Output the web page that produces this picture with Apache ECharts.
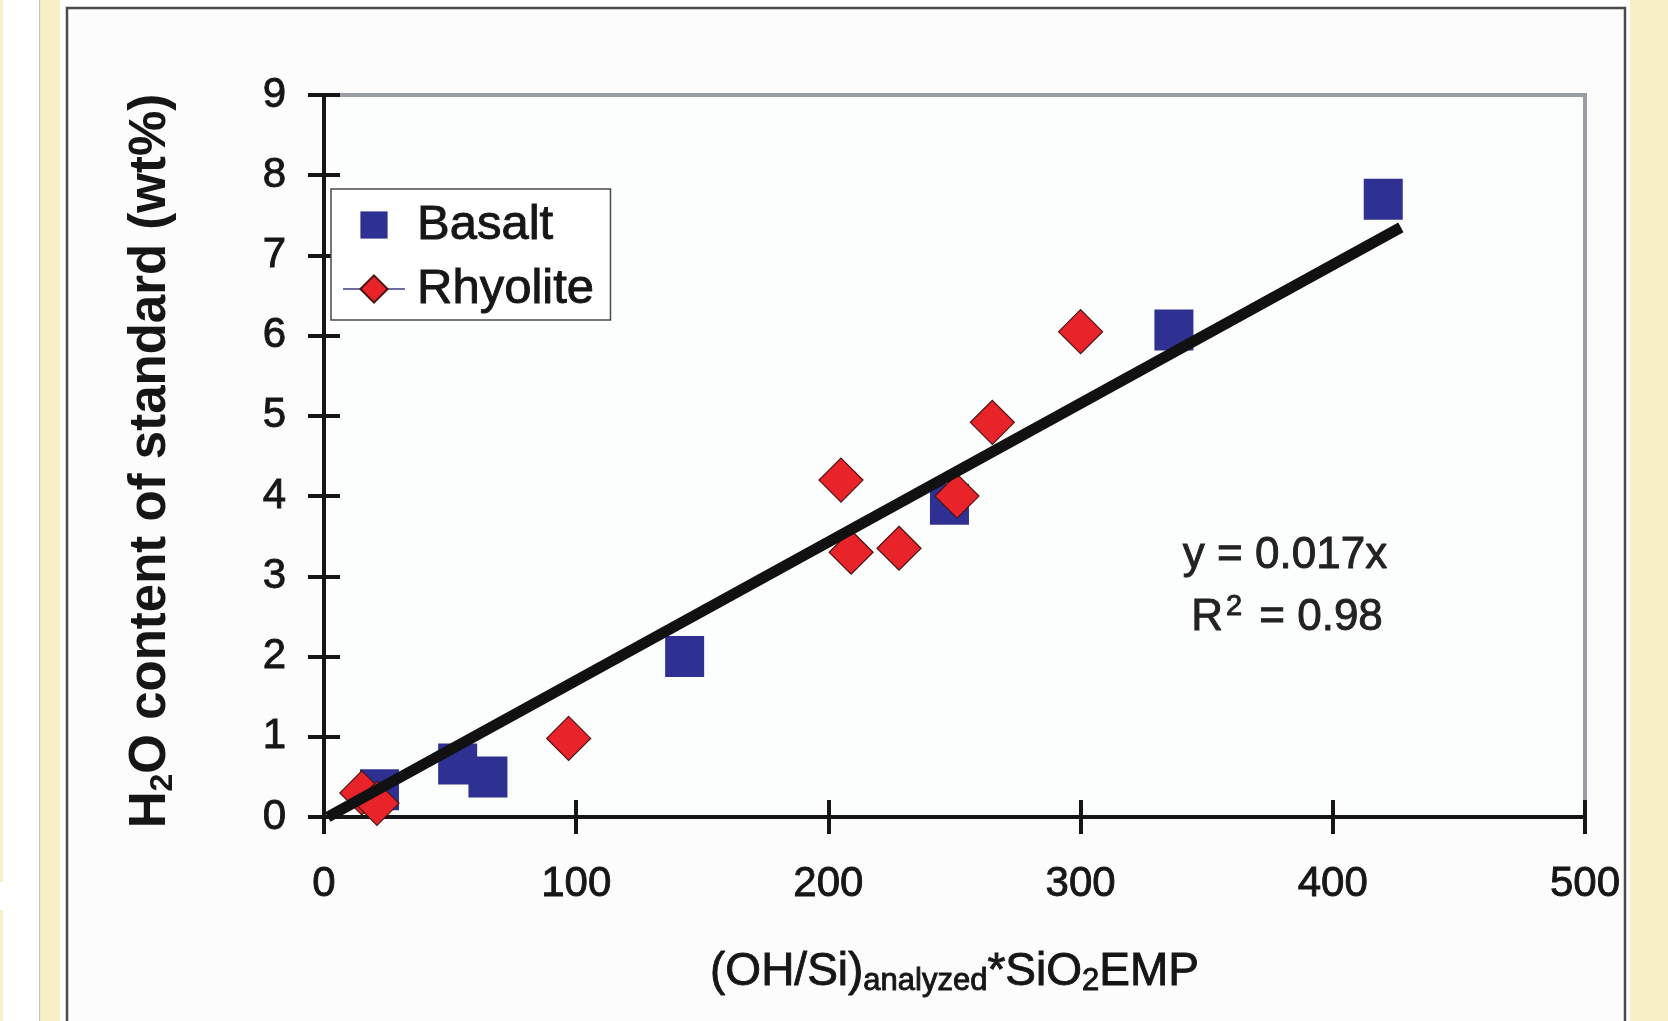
<!DOCTYPE html>
<html>
<head>
<meta charset="utf-8">
<title>H2O standard calibration</title>
<script src="https://cdn.jsdelivr.net/npm/echarts@6/dist/echarts.min.js"></script>
<style>
  html, body { margin: 0; padding: 0; background: #ffffff; }
  #main { width: 1668px; height: 1021px; }
</style>
</head>
<body>
<div id="main"></div>
<script>
console.log("H2O calibration chart");

// data
var basaltX = [420, 337, 248, 143, 53, 65, 22];
var basaltY = [7.7, 6.07, 3.9, 2.0, 0.66, 0.5, 0.34];
var rhyoliteX = [300, 265, 251, 205, 209, 228, 97, 15, 21];
var rhyoliteY = [6.05, 4.92, 4.0, 4.2, 3.3, 3.35, 0.98, 0.3, 0.17];
var trendX = [1.5, 427];
var trendY = [0, 7.35];

var xMin = 0, xMax = 500, xStep = 100;
var yMin = 0, yMax = 9, yStep = 1;

var seriesNames = ['Basalt', 'Rhyolite'];
var eqLine1 = 'y = 0.017x';
var eqLine2 = 'R{sup|2} = 0.98';
var xTitle = '(OH/Si){sub|analyzed}*SiO{sub|2}EMP';
var yTitle = 'H{sub|2}O content of standard (wt%)';

var FONT = '"Liberation Sans", Arial, Helvetica, sans-serif';
var INK = '#161616';
var HEAVY = 0.9;   // thin text stroke, the scan looks heavier than plain regular

function pairs(xs, ys) {
    var out = [];
    for (var i = 0; i < xs.length; i++) {
        out.push([xs[i], ys[i]]);
    }
    return out;
}

var myChart = echarts.init(document.getElementById('main'), null, {renderer: 'canvas'});

// main axis (outside ticks + labels) and a twin with inside ticks -> crossing ticks
function xAxisMain() {
    return {
        type: 'value', min: xMin, max: xMax, interval: xStep, position: 'bottom',
        axisLine: {show: true, lineStyle: {color: INK, width: 4}},
        axisTick: {show: true, inside: false, length: 17, lineStyle: {color: INK, width: 4}},
        axisLabel: {show: true, fontSize: 42, fontFamily: FONT, color: INK, margin: 46,
            textBorderColor: INK, textBorderWidth: HEAVY},
        splitLine: {show: false},
        name: xTitle,
        nameLocation: 'middle',
        nameGap: 130,
        nameTextStyle: {
            fontSize: 46, fontFamily: FONT, color: INK, lineHeight: 50,
            textBorderColor: INK, textBorderWidth: HEAVY,
            rich: {
                sub: {fontSize: 31, fontFamily: FONT, color: INK, lineHeight: 30, verticalAlign: 'bottom',
                    textBorderColor: INK, textBorderWidth: HEAVY}
            }
        }
    };
}
function xAxisTwin() {
    return {
        type: 'value', min: xMin, max: xMax, interval: xStep, position: 'bottom',
        axisLine: {show: false},
        axisTick: {show: true, inside: true, length: 17, lineStyle: {color: INK, width: 4}},
        axisLabel: {show: false},
        splitLine: {show: false}
    };
}
function yAxisMain() {
    return {
        type: 'value', min: yMin, max: yMax, interval: yStep, position: 'left',
        axisLine: {show: true, lineStyle: {color: INK, width: 4}},
        axisTick: {show: true, inside: false, length: 16, lineStyle: {color: INK, width: 4}},
        axisLabel: {show: true, fontSize: 42, fontFamily: FONT, color: INK, margin: 38,
            textBorderColor: INK, textBorderWidth: HEAVY},
        splitLine: {show: false},
        name: yTitle,
        nameLocation: 'middle',
        nameRotate: 90,
        nameGap: 145,
        nameTextStyle: {
            fontSize: 51, fontWeight: 'bold', fontFamily: FONT, color: INK, lineHeight: 56,
            padding: [0, 10, 0, 0],
            rich: {
                sub: {fontSize: 32, fontWeight: 'bold', fontFamily: FONT, color: INK, lineHeight: 34, verticalAlign: 'bottom'}
            }
        }
    };
}
function yAxisTwin() {
    return {
        type: 'value', min: yMin, max: yMax, interval: yStep, position: 'left',
        axisLine: {show: false},
        axisTick: {show: true, inside: true, length: 16, lineStyle: {color: INK, width: 4}},
        axisLabel: {show: false},
        splitLine: {show: false}
    };
}

var option = {
    backgroundColor: '#ffffff',
    animation: false,
    grid: {
        left: 324, top: 95, right: 83, bottom: 204,
        show: true,
        backgroundColor: '#fcfdfd',
        borderColor: '#9a9ea3',
        borderWidth: 4
    },
    legend: {
        orient: 'vertical',
        left: 331, top: 189,
        backgroundColor: '#ffffff',
        borderColor: '#4a4a4a',
        borderWidth: 1.5,
        borderRadius: 0,
        padding: [11, 16, 6, 11],
        itemGap: 14,
        itemWidth: 62,
        itemHeight: 34,
        textStyle: {fontSize: 49, fontFamily: FONT, color: INK, lineHeight: 50,
            padding: [0, 0, 0, 7], textBorderColor: INK, textBorderWidth: HEAVY},
        data: [
            {name: seriesNames[0], lineStyle: {opacity: 0}},
            {name: seriesNames[1], lineStyle: {color: '#6b6fa6', width: 2, opacity: 1}}
        ]
    },
    xAxis: [xAxisMain(), xAxisTwin()],
    yAxis: [yAxisMain(), yAxisTwin()],
    series: [
        {
            name: seriesNames[0],
            type: 'line',
            data: pairs(basaltX, basaltY),
            symbol: 'rect',
            symbolSize: [39, 41],
            showSymbol: true,
            lineStyle: {opacity: 0},
            itemStyle: {color: '#2e3192', borderColor: '#2e3192', borderWidth: 0},
            z: 3
        },
        {
            name: seriesNames[1],
            type: 'line',
            data: pairs(rhyoliteX, rhyoliteY),
            symbol: 'diamond',
            symbolSize: [44, 44],
            showSymbol: true,
            lineStyle: {opacity: 0},
            itemStyle: {color: '#e8232a', borderColor: '#4a1414', borderWidth: 1.2},
            z: 4
        },
        {
            name: 'trend',
            type: 'line',
            data: pairs(trendX, trendY),
            symbol: 'none',
            clip: false,
            lineStyle: {color: '#111111', width: 11, cap: 'butt'},
            z: 5
        }
    ],
    graphic: [
        // page strips left and right
        {type: 'rect', shape: {x: 0, y: 0, width: 3, height: 882}, style: {fill: '#f8f1cc'}, silent: true, z: -20},
        {type: 'rect', shape: {x: 0, y: 910, width: 3, height: 111}, style: {fill: '#f8f1cc'}, silent: true, z: -20},
        {type: 'rect', shape: {x: 39, y: 0, width: 1.5, height: 1021}, style: {fill: '#c4c4c4'}, silent: true, z: -20},
        {type: 'rect', shape: {x: 40.5, y: 0, width: 19.5, height: 1021}, style: {fill: '#f7f0c6'}, silent: true, z: -20},
        {type: 'rect', shape: {x: 1630, y: 0, width: 38, height: 1021}, style: {fill: '#f7f0c6'}, silent: true, z: -20},
        // outer frame
        {type: 'rect', shape: {x: 67, y: 8, width: 1558, height: 1100},
            style: {fill: '#fcfcfc', stroke: '#4a4a4a', lineWidth: 2.5}, silent: true, z: -15},
        // regression text
        {type: 'text', x: 1285, y: 556, silent: true, z: 10,
            style: {text: eqLine1, fontSize: 44, fontFamily: FONT, fill: '#222222',
                stroke: '#222222', lineWidth: HEAVY,
                textAlign: 'center', textVerticalAlign: 'middle'}},
        {type: 'text', x: 1287, y: 618, silent: true, z: 10,
            style: {text: eqLine2, fontSize: 44, fontFamily: FONT, fill: '#222222',
                stroke: '#222222', lineWidth: HEAVY,
                textAlign: 'center', textVerticalAlign: 'middle', lineHeight: 52,
                rich: {sup: {fontSize: 29, fontFamily: FONT, fill: '#222222', stroke: '#222222', lineWidth: HEAVY,
                    lineHeight: 18, verticalAlign: 'top', padding: [0, 5, 0, 3]}}}}
    ]
};

myChart.setOption(option);
</script>
</body>
</html>
